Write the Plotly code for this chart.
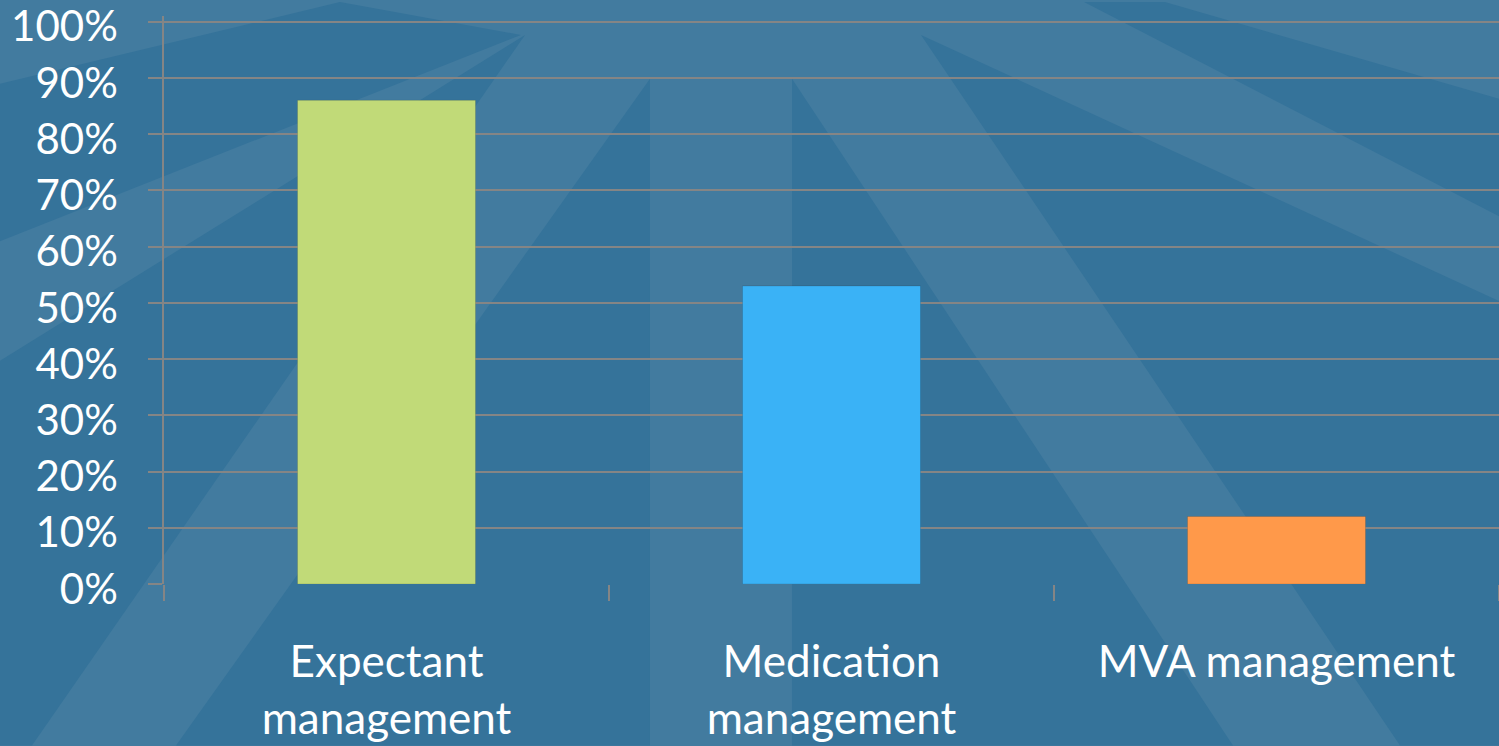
import plotly.graph_objects as go

# Chart data
categories = ["Expectant<br>management", "Medication<br>management", "MVA management"]
values = [0.86, 0.53, 0.12]
bar_colors = ["#c1da78", "#3ab2f6", "#ff994a"]
y_ticks = [0, 0.1, 0.2, 0.3, 0.4, 0.5, 0.6, 0.7, 0.8, 0.9, 1.0]

# Figure geometry (pixels)
W, H = 1499, 746
M_L, M_R, M_T, M_B = 164, 0, 14, 162
PLOT_W = W - M_L - M_R
PLOT_H = H - M_T - M_B
Y_MAX = 1.01

LIGHT = "#427b9f"
DARK = "#35739a"
GRID = "#858585"
FONT = "Lato, 'Open Sans', sans-serif"

# Background ray shapes of the slide theme, in pixel coordinates
RAYS = [
    [(0, 82), (340, 0), (521, 33), (0, 240)],
    [(525, 33), (0, 360), (0, 746), (32, 746)],
    [(650, 77), (650, 746), (176, 746)],
    [(792, 77), (1233, 746), (792, 746)],
    [(921, 33), (1499, 300), (1499, 746), (1400, 746)],
    [(1084, 0), (1165, 0), (1499, 97), (1499, 215)],
]


def to_paper(px, py):
    return (px - M_L) / PLOT_W, (H - M_B - py) / PLOT_H


shapes = []
for poly in RAYS:
    pts = [to_paper(x, y) for x, y in poly]
    path = "M " + " L ".join(f"{x:.5f},{y:.5f}" for x, y in pts) + " Z"
    shapes.append(dict(type="path", xref="paper", yref="paper", path=path,
                       fillcolor=DARK, line=dict(width=0), layer="below"))

fig = go.Figure(
    go.Bar(
        x=categories,
        y=values,
        marker=dict(color=bar_colors, line=dict(color="rgba(0,0,0,0.12)", width=1)),
        width=0.4,
        hoverinfo="skip",
    )
)

fig.update_layout(
    width=W,
    height=H,
    margin=dict(l=M_L, r=M_R, t=M_T, b=M_B, pad=0),
    paper_bgcolor=LIGHT,
    plot_bgcolor="rgba(0,0,0,0)",
    showlegend=False,
    shapes=shapes,
    font=dict(family=FONT, color="white", size=44),
)

fig.update_xaxes(
    type="category",
    tickson="boundaries",
    ticks="outside",
    ticklen=16,
    tickwidth=1.5,
    tickcolor=GRID,
    showgrid=False,
    showline=False,
    tickfont=dict(family=FONT, size=44, color="white"),
    ticklabelstandoff=48,
    ticklabeloverflow="allow",
    zeroline=False,
)

fig.update_yaxes(
    range=[0, Y_MAX],
    tickvals=y_ticks,
    tickformat=".0%",
    ticks="outside",
    ticklen=14,
    tickwidth=1.5,
    tickcolor=GRID,
    showgrid=True,
    gridcolor=GRID,
    gridwidth=1.5,
    showline=True,
    linecolor=GRID,
    linewidth=1.5,
    zeroline=False,
    tickfont=dict(family=FONT, size=42, color="white"),
    ticklabelstandoff=22,
    ticklabelshift=5,
    ticklabeloverflow="allow",
)

fig.write_html("out.html")
